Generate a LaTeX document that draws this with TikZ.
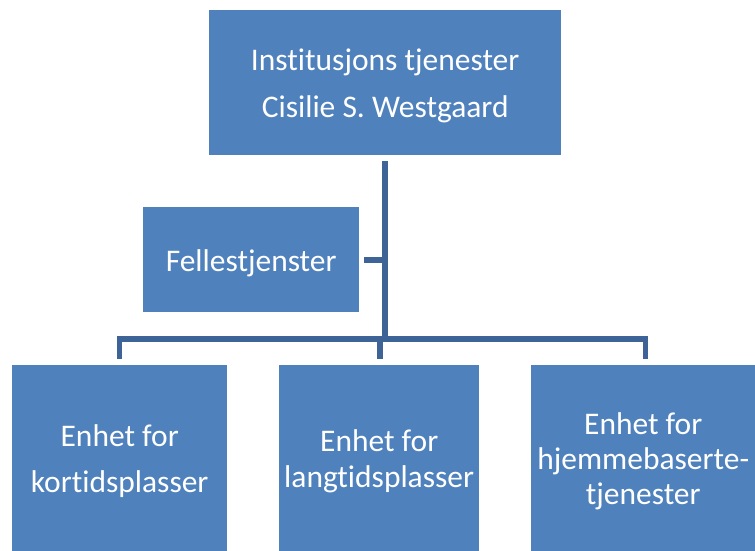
\documentclass[tikz,border=0pt]{standalone}
\usepackage{fontspec}
\setmainfont[Ligatures=NoCommon]{Carlito}
\definecolor{boxblue}{HTML}{4F81BD}
\definecolor{lineblue}{HTML}{3E6396}
\begin{document}
\begin{tikzpicture}[x=1bp,y=-1bp,
  orgbox/.style={fill=boxblue,draw=none,text=white,align=center,inner sep=0pt,anchor=north west},
  boxtext/.style={text=white,align=center,inner sep=0pt,yshift=-3bp},
  conn/.style={draw=lineblue,line width=5.5bp}]
\useasboundingbox (0,0) rectangle (755,551);
\node[orgbox,minimum width=352bp,minimum height=145bp] (top) at (209,10) {};
\node[orgbox,minimum width=216bp,minimum height=105bp] (fel) at (143,207) {};
\node[orgbox,minimum width=215bp,minimum height=186bp] (b1) at (12,365) {};
\node[orgbox,minimum width=200bp,minimum height=186bp] (b2) at (279,365) {};
\node[orgbox,minimum width=224bp,minimum height=186bp] (b3) at (531,365) {};
\node[boxtext,font=\fontsize{31.6}{47}\selectfont] (toptext) at (top.center) {Institusjons tjenester\\Cisilie S. Westgaard};
\node[boxtext,font=\fontsize{31.6}{47}\selectfont,yshift=-1bp] (feltext) at (fel.center) {Fellestjenster};
\node[boxtext,font=\fontsize{31.6}{46.5}\selectfont] (b1text) at (b1.center) {Enhet for\\kortidsplasser};
\node[boxtext,font=\fontsize{31.6}{35.5}\selectfont] (b2text) at (b2.center) {Enhet for\\langtidsplasser};
\node[boxtext,font=\fontsize{31.6}{35}\selectfont] (b3text) at (b3.center) {Enhet for\\hjemmebaserte-\\tjenester};
\coordinate (t0) at (385,161);
\coordinate (hub) at (385,339);
\coordinate (stub) at (385,260);
\coordinate (s0) at (364,260);
\coordinate (l1) at (119.5,339);
\coordinate (r1) at (645.5,339);
\coordinate (m1) at (380,339);
\draw[conn] (t0) -- (hub);
\draw[conn] (s0) -- (stub);
\draw[conn] (b1.north -| l1) ++(0,-6) -- (l1) -- (r1) -- ++(0,20);
\draw[conn] (m1) -- ++(0,20);
\end{tikzpicture}
\end{document}
